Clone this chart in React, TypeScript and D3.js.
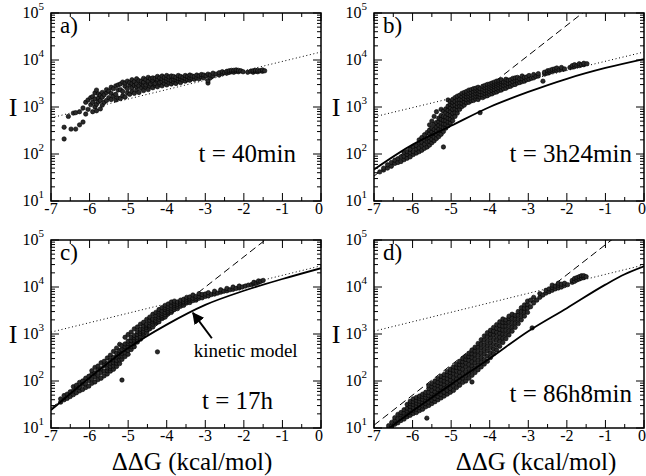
import React from 'react';
import * as d3 from 'd3';

// Four panels, log(I) vs ddG. Scatter:
// [ddG, [log10 I, ...]].
const FONT = '"Liberation Serif"';
const W = 270;
const H = 188;

const xMajor = [-7, -6, -5, -4, -3, -2, -1, 0];
const xMinor = [-6.5, -5.5, -4.5, -3.5, -2.5, -1.5, -0.5];
const yExp = [1, 2, 3, 4, 5];

const aCols = [
  [-6.66, [2.32, 2.57]], [-6.55, [2.8]], [-6.48, [2.53]], [-6.42, [2.87]], [-6.36, [2.53, 2.88]],
  [-6.26, [2.62, 2.9]], [-6.17, [2.68, 2.98]], [-6.1, [2.85, 3.1]], [-6.04, [2.95, 3.15]],
  [-5.97, [3.05, 3.2]], [-5.92, [2.9, 3.1, 3.22]], [-5.86, [3.0, 3.17, 3.3]], [-5.82, [2.92, 3.06, 3.36]],
  [-5.77, [3.11, 3.19, 3.28]], [-5.72, [2.96, 3.14, 3.25]], [-5.67, [3.04, 3.21, 3.31]], [-5.62, [3.1, 3.26]],
  [-5.56, [3.14, 3.31, 3.37]], [-5.5, [3.2, 3.34]], [-5.44, [3.16, 3.29, 3.42]], [-5.38, [3.23, 3.39]],
  [-5.32, [3.15, 3.27, 3.45]], [-5.26, [3.19, 3.36, 3.47]], [-5.2, [3.18, 3.37, 3.49]], [-5.14, [3.24, 3.33, 3.53]],
  [-5.08, [3.21, 3.44, 3.51]], [-5.02, [3.3, 3.39, 3.55]], [-4.96, [3.27, 3.47, 3.52]], [-4.9, [3.33, 3.41, 3.5, 3.58]],
  [-4.84, [3.29, 3.46, 3.54]], [-4.78, [3.36, 3.43, 3.49, 3.6]], [-4.72, [3.31, 3.45, 3.56]],
  [-4.66, [3.4, 3.5, 3.55]], [-4.6, [3.35, 3.46, 3.53, 3.61]], [-4.54, [3.42, 3.47, 3.58]],
  [-4.48, [3.37, 3.51, 3.55, 3.63]], [-4.42, [3.44, 3.49, 3.6]], [-4.36, [3.41, 3.53, 3.57, 3.62]],
  [-4.3, [3.46, 3.5, 3.61]], [-4.24, [3.43, 3.55, 3.59, 3.65]], [-4.18, [3.48, 3.52, 3.62]],
  [-4.12, [3.45, 3.54, 3.6, 3.66]], [-4.06, [3.5, 3.57, 3.63]], [-4.0, [3.47, 3.55, 3.61, 3.67]],
  [-3.94, [3.51, 3.58, 3.64]], [-3.88, [3.49, 3.56, 3.66]], [-3.82, [3.53, 3.59, 3.65]], [-3.76, [3.5, 3.58, 3.63]],
  [-3.7, [3.55, 3.61, 3.67]], [-3.64, [3.52, 3.6, 3.65]], [-3.58, [3.57, 3.63]], [-3.52, [3.55, 3.61, 3.67]],
  [-3.46, [3.58, 3.65]], [-3.4, [3.57, 3.62, 3.68]], [-3.34, [3.61, 3.66]], [-3.28, [3.59, 3.65]],
  [-3.22, [3.62, 3.68]], [-3.16, [3.6, 3.66]], [-3.1, [3.64, 3.69]], [-3.04, [3.62, 3.68]], [-2.98, [3.66]],
  [-2.93, [3.51, 3.56, 3.7]], [-2.87, [3.62, 3.68]], [-2.8, [3.66, 3.72]], [-2.72, [3.7]], [-2.64, [3.68, 3.73]],
  [-2.56, [3.71, 3.75]], [-2.5, [3.73]], [-2.44, [3.72, 3.76]], [-2.38, [3.74, 3.77]], [-2.32, [3.75, 3.78]],
  [-2.26, [3.74, 3.78]], [-2.2, [3.76, 3.79]], [-2.14, [3.75, 3.78]], [-2.08, [3.77]], [-2.02, [3.75]],
  [-1.9, [3.74]], [-1.82, [3.76]], [-1.76, [3.74, 3.77]], [-1.7, [3.76, 3.78]], [-1.64, [3.75, 3.78]],
  [-1.58, [3.77]], [-1.52, [3.76, 3.79]], [-1.46, [3.77]],
];

const bCols = [
  [-6.85, [1.62]], [-6.75, [1.66, 1.7]], [-6.65, [1.7, 1.77]], [-6.55, [1.74, 1.82]], [-6.46, [1.8, 1.87]],
  [-6.38, [1.82, 1.9]], [-6.3, [1.84, 1.94]], [-6.22, [1.88, 1.95, 2.03]], [-6.14, [1.91, 1.99, 2.05]],
  [-6.06, [1.94, 2.03, 2.1]], [-5.98, [1.99, 2.05, 2.15]], [-5.9, [2.02, 2.11, 2.18]],
  [-5.83, [2.05, 2.13, 2.23, 2.3]], [-5.76, [2.08, 2.18, 2.25, 2.35]], [-5.69, [2.12, 2.21, 2.3, 2.41]],
  [-5.62, [2.15, 2.26, 2.34, 2.46]], [-5.56, [2.19, 2.27, 2.35, 2.43, 2.51, 2.62]],
  [-5.5, [2.24, 2.31, 2.39, 2.47, 2.55, 2.7]], [-5.44, [2.28, 2.36, 2.44, 2.52, 2.63, 2.8]],
  [-5.38, [2.33, 2.41, 2.49, 2.57, 2.67, 2.9]], [-5.32, [2.37, 2.45, 2.53, 2.61, 2.69, 2.76]],
  [-5.26, [2.42, 2.5, 2.58, 2.66, 2.74, 2.82, 2.95]], [-5.2, [2.15, 2.48, 2.56, 2.64, 2.72, 2.8, 2.91]],
  [-5.14, [2.55, 2.63, 2.71, 2.79, 2.88, 2.96]], [-5.08, [2.6, 2.68, 2.76, 2.84, 2.93, 3.02, 3.15]],
  [-5.02, [2.66, 2.74, 2.82, 2.9, 2.98, 3.06, 3.12]], [-4.96, [2.71, 2.79, 2.87, 2.95, 3.03, 3.1, 3.16]],
  [-4.9, [2.8, 2.88, 2.96, 3.04, 3.12, 3.2]], [-4.84, [2.87, 2.94, 3.01, 3.08, 3.15, 3.23]],
  [-4.78, [2.95, 3.02, 3.09, 3.16, 3.25]], [-4.72, [3.01, 3.08, 3.15, 3.22, 3.29]],
  [-4.66, [3.04, 3.11, 3.18, 3.25, 3.31]], [-4.6, [3.09, 3.16, 3.22, 3.28, 3.33]],
  [-4.54, [3.1, 3.17, 3.23, 3.29, 3.36]], [-4.48, [3.13, 3.19, 3.25, 3.31, 3.37]],
  [-4.42, [3.14, 3.21, 3.27, 3.33, 3.39]], [-4.36, [3.17, 3.23, 3.29, 3.35, 3.4]],
  [-4.3, [3.16, 3.23, 3.29, 3.36, 3.42]], [-4.25, [2.88, 3.21, 3.27, 3.33, 3.39]],
  [-4.18, [3.2, 3.26, 3.32, 3.38, 3.44]], [-4.12, [3.23, 3.29, 3.35, 3.41, 3.46]],
  [-4.06, [3.24, 3.3, 3.36, 3.42, 3.48]], [-4.0, [3.27, 3.33, 3.39, 3.44, 3.49]],
  [-3.94, [3.28, 3.35, 3.41, 3.46, 3.51]], [-3.88, [3.31, 3.37, 3.43, 3.48, 3.53]],
  [-3.82, [3.32, 3.39, 3.45, 3.5, 3.55]], [-3.76, [3.35, 3.41, 3.47, 3.52, 3.56]],
  [-3.7, [3.36, 3.43, 3.49, 3.54, 3.58]], [-3.64, [3.39, 3.46, 3.53]], [-3.58, [3.4, 3.47, 3.53, 3.59]],
  [-3.52, [3.43, 3.5, 3.57]], [-3.46, [3.44, 3.51, 3.58]], [-3.4, [3.47, 3.54, 3.61]],
  [-3.34, [3.48, 3.56, 3.62]], [-3.28, [3.51, 3.57, 3.63]], [-3.22, [3.52, 3.6]], [-3.16, [3.54, 3.6, 3.66]],
  [-3.1, [3.55, 3.63]], [-3.04, [3.58, 3.64]], [-2.98, [3.59, 3.67]], [-2.92, [3.61]], [-2.86, [3.62, 3.69]],
  [-2.8, [3.65]], [-2.74, [3.66, 3.71]], [-2.62, [3.55]], [-2.58, [3.7, 3.74]], [-2.5, [3.72, 3.77]],
  [-2.44, [3.74, 3.78]], [-2.38, [3.76, 3.8]], [-2.32, [3.77, 3.81]], [-2.26, [3.78, 3.83]], [-2.2, [3.79]],
  [-2.14, [3.8, 3.84]], [-2.06, [3.81]], [-1.92, [3.84]], [-1.86, [3.85, 3.88]], [-1.8, [3.86, 3.9]],
  [-1.74, [3.88]], [-1.68, [3.88, 3.92]], [-1.62, [3.9]], [-1.56, [3.9, 3.93]], [-1.48, [3.92]],
];

const cCols = [
  [-6.75, [1.55, 1.62]], [-6.66, [1.6, 1.69]], [-6.58, [1.63, 1.72]], [-6.5, [1.67, 1.77]],
  [-6.42, [1.71, 1.79, 1.88]], [-6.34, [1.75, 1.85, 1.91]], [-6.26, [1.79, 1.87, 1.97]], [-6.18, [1.82, 1.93, 2.0]],
  [-6.1, [1.86, 1.94, 2.06]], [-6.02, [1.89, 2.01, 2.1]], [-5.94, [1.95, 2.04, 2.15, 2.22]],
  [-5.86, [1.98, 2.09, 2.17, 2.29]], [-5.78, [2.03, 2.12, 2.23, 2.32]], [-5.7, [2.06, 2.18, 2.26, 2.39]],
  [-5.62, [2.11, 2.21, 2.33, 2.42]], [-5.54, [2.15, 2.22, 2.28, 2.37, 2.49]],
  [-5.46, [2.21, 2.27, 2.31, 2.38, 2.45, 2.55]], [-5.38, [2.25, 2.32, 2.39, 2.45, 2.5, 2.63]],
  [-5.3, [2.31, 2.38, 2.44, 2.51, 2.59, 2.7]], [-5.22, [2.37, 2.45, 2.53, 2.59, 2.65, 2.78]],
  [-5.16, [2.02, 2.46, 2.53, 2.59, 2.67, 2.75]], [-5.08, [2.52, 2.6, 2.67, 2.73, 2.79, 2.93]],
  [-5.0, [2.57, 2.65, 2.73, 2.8, 2.85, 2.99]], [-4.92, [2.67, 2.73, 2.79, 2.86, 2.93, 3.04]],
  [-4.84, [2.73, 2.8, 2.87, 2.92, 2.97, 3.11]], [-4.76, [2.83, 2.88, 2.92, 2.99, 3.05, 3.15]],
  [-4.68, [2.89, 2.95, 3.01, 3.06, 3.1, 3.21]], [-4.6, [2.98, 3.02, 3.06, 3.12, 3.17, 3.25]],
  [-4.52, [3.03, 3.09, 3.14, 3.18, 3.21, 3.31]], [-4.44, [3.11, 3.15, 3.18, 3.24, 3.29, 3.36]],
  [-4.36, [3.15, 3.21, 3.26, 3.3, 3.32, 3.42]], [-4.28, [3.23, 3.26, 3.29, 3.34, 3.39, 3.46]],
  [-4.24, [2.62]], [-4.2, [3.26, 3.31, 3.36, 3.42, 3.47, 3.52]], [-4.12, [3.33, 3.36, 3.39, 3.44, 3.49, 3.56]],
  [-4.04, [3.36, 3.41, 3.46, 3.52, 3.56, 3.61]], [-3.96, [3.43, 3.46, 3.49, 3.54, 3.58, 3.64]],
  [-3.88, [3.46, 3.5, 3.55, 3.6, 3.68]], [-3.8, [3.52, 3.57, 3.61, 3.65, 3.7]], [-3.72, [3.54, 3.59, 3.63, 3.68]],
  [-3.64, [3.59, 3.64, 3.68, 3.72]], [-3.56, [3.61, 3.66, 3.69, 3.74]], [-3.48, [3.66, 3.7, 3.74, 3.78]],
  [-3.4, [3.67, 3.72, 3.75, 3.79]], [-3.32, [3.71, 3.76, 3.83]], [-3.24, [3.72, 3.76, 3.8]],
  [-3.16, [3.76, 3.8, 3.86]], [-3.08, [3.77, 3.84]], [-3.0, [3.8, 3.85]],
  [-2.92, [3.81, 3.88]], [-2.84, [3.84]], [-2.76, [3.85, 3.91]], [-2.68, [3.87]], [-2.6, [3.89, 3.94]],
  [-2.52, [3.91]], [-2.44, [3.92, 3.97]], [-2.36, [3.94]], [-2.28, [3.95, 4.0]], [-2.2, [3.97]],
  [-2.12, [3.98, 4.02]], [-2.04, [4.0]], [-1.96, [4.02]], [-1.88, [4.04]], [-1.8, [4.05]],
  [-1.74, [4.07, 4.1]], [-1.68, [4.08]], [-1.62, [4.1, 4.13]], [-1.56, [4.12]], [-1.5, [4.14]],
];

const dCols = [
  [-6.62, [1.0, 1.05]], [-6.54, [1.04, 1.12]], [-6.46, [1.08, 1.17, 1.22]], [-6.38, [1.11, 1.2, 1.29]],
  [-6.3, [1.16, 1.22, 1.28, 1.33]], [-6.22, [1.19, 1.25, 1.32, 1.39]], [-6.14, [1.24, 1.3, 1.36, 1.42, 1.5]],
  [-6.06, [1.27, 1.33, 1.39, 1.46, 1.52, 1.57]], [-5.98, [1.31, 1.37, 1.44, 1.5, 1.56, 1.62]],
  [-5.9, [1.33, 1.4, 1.47, 1.53, 1.59, 1.65]], [-5.82, [1.37, 1.44, 1.5, 1.57, 1.63, 1.68]],
  [-5.74, [1.4, 1.47, 1.54, 1.61, 1.67, 1.72]], [-5.66, [1.45, 1.52, 1.58, 1.65, 1.71, 1.76]],
  [-5.63, [1.21]], [-5.58, [1.48, 1.55, 1.62, 1.69, 1.76, 1.84, 1.9]],
  [-5.5, [1.52, 1.59, 1.66, 1.73, 1.8, 1.88, 1.95]], [-5.42, [1.56, 1.63, 1.7, 1.77, 1.85, 1.92, 2.0]],
  [-5.34, [1.6, 1.67, 1.74, 1.82, 1.9, 1.97, 2.05]], [-5.26, [1.64, 1.71, 1.79, 1.87, 1.95, 2.02, 2.1]],
  [-5.18, [1.68, 1.76, 1.84, 1.92, 2.0, 2.07, 2.14]], [-5.1, [1.72, 1.8, 1.88, 1.97, 2.05, 2.13, 2.2]],
  [-5.02, [1.76, 1.84, 1.93, 2.02, 2.1, 2.18, 2.25]], [-4.94, [1.8, 1.89, 1.98, 2.07, 2.16, 2.23, 2.3]],
  [-4.86, [1.86, 1.95, 2.04, 2.13, 2.22, 2.29, 2.36]], [-4.78, [1.91, 2.0, 2.1, 2.19, 2.28, 2.35, 2.42]],
  [-4.7, [1.97, 2.06, 2.16, 2.25, 2.34, 2.41, 2.48]], [-4.62, [2.0, 2.1, 2.2, 2.3, 2.39, 2.46, 2.53]],
  [-4.54, [2.06, 2.16, 2.26, 2.35, 2.44, 2.52, 2.59]], [-4.46, [1.98, 2.12, 2.22, 2.32, 2.41, 2.5, 2.58, 2.66]],
  [-4.38, [2.18, 2.28, 2.38, 2.47, 2.56, 2.64, 2.72]], [-4.3, [2.24, 2.34, 2.44, 2.54, 2.63, 2.72, 2.8]],
  [-4.22, [2.3, 2.4, 2.5, 2.6, 2.7, 2.79, 2.88]], [-4.14, [2.36, 2.46, 2.57, 2.67, 2.77, 2.87, 2.96]],
  [-4.06, [2.42, 2.53, 2.64, 2.74, 2.84, 2.94, 3.03]], [-3.98, [2.5, 2.6, 2.71, 2.81, 2.91, 3.0, 3.08]],
  [-3.9, [2.58, 2.68, 2.78, 2.88, 2.98, 3.06, 3.14]], [-3.82, [2.66, 2.76, 2.86, 2.95, 3.04, 3.12, 3.2]],
  [-3.74, [2.74, 2.84, 2.93, 3.02, 3.1, 3.18, 3.26]], [-3.66, [2.82, 2.91, 3.0, 3.09, 3.17, 3.25, 3.32]],
  [-3.58, [2.9, 2.99, 3.08, 3.17, 3.25, 3.3]], [-3.5, [2.98, 3.07, 3.16, 3.25, 3.33, 3.38]],
  [-3.42, [3.06, 3.15, 3.24, 3.33, 3.42]], [-3.34, [3.14, 3.23, 3.32, 3.4]], [-3.26, [3.22, 3.31, 3.4, 3.48]],
  [-3.18, [3.3, 3.39, 3.48, 3.56]], [-3.1, [3.38, 3.47, 3.55, 3.62]], [-3.02, [3.46, 3.55, 3.63, 3.7]],
  [-2.94, [3.58, 3.72]], [-2.9, [3.13]], [-2.86, [3.66, 3.78]], [-2.78, [3.72]], [-2.7, [3.78, 3.86]],
  [-2.62, [3.83]], [-2.54, [3.87, 3.93]], [-2.46, [3.9, 3.96]], [-2.38, [3.93, 3.99, 4.04]], [-2.3, [3.96, 4.02]],
  [-2.22, [3.98, 4.04, 4.08]], [-2.14, [4.0, 4.06]], [-2.06, [4.03, 4.08]], [-1.98, [4.05]],
  [-1.86, [4.1, 4.14]], [-1.8, [4.12, 4.18]], [-1.74, [4.15, 4.2]], [-1.68, [4.17, 4.22]],
  [-1.62, [4.19, 4.24]], [-1.56, [4.2, 4.24]], [-1.5, [4.22]],
];

// reference lines, [ddG, log10 I]
const aDotted = [[-7, 2.77], [0, 4.17]];
const bDotted = [[-7, 2.79], [0, 4.17]];
const cDotted = [[-7, 3.04], [0, 4.45]];
const dDotted = [[-7, 3.06], [0, 4.47]];
const bDashed = [[-7, 1.53], [-1.5, 5.06]];
const cDashed = [[-7, 1.42], [-1.4, 5.03]];
const dDashed = [[-7, 1.06], [-0.75, 5.06]];
const bSolid = [[-7, 1.67], [-6, 2.2], [-5, 2.6], [-4, 3.0], [-3, 3.32], [-2, 3.6], [-1, 3.83], [0, 4.02]];
const cSolid = [[-7, 1.38], [-6, 2.07], [-5, 2.7], [-4, 3.2], [-3, 3.62], [-2, 3.92], [-1, 4.17], [0, 4.4]];
const dSolid = [[-6.6, 1.0], [-6, 1.36], [-5, 1.93], [-4, 2.48], [-3, 3.06], [-2, 3.55], [-1, 4.05], [-0.5, 4.27], [0, 4.44]];

// kinetic model arrow (panel c): tail, head
const arrowC = [[-2.83, 2.91], [-3.32, 3.45]];

const panels = [
  { id: 'a', left: 51, top: 13, tag: 'a)', time: 't = 40min', timeX: 296, timeY: 162, cols: aCols, dotted: aDotted },
  { id: 'b', left: 374, top: 13, tag: 'b)', time: 't = 3h24min', timeX: 632, timeY: 162, cols: bCols, dotted: bDotted, dashed: bDashed, solid: bSolid },
  { id: 'c', left: 51, top: 240, tag: 'c)', time: 't = 17h', timeX: 273, timeY: 409, cols: cCols, dotted: cDotted, dashed: cDashed, solid: cSolid, arrow: arrowC, xTitle: 192 },
  { id: 'd', left: 374, top: 240, tag: 'd)', time: 't = 86h8min', timeX: 632, timeY: 402, cols: dCols, dotted: dDotted, dashed: dDashed, solid: dSolid, xTitle: 536 },
];

function Panel({ p }) {
  const x = d3.scaleLinear().domain([-7, 0]).range([0, W]);
  const y = d3.scaleLog().domain([10, 1e5]).range([H, 0]);
  const ly = (v) => y(10 ** v);
  const line = d3.line().x((d) => x(d[0])).y((d) => ly(d[1]));
  const curve = d3.line().x((d) => x(d[0])).y((d) => ly(d[1])).curve(d3.curveMonotoneX);
  const minorY = y.ticks().filter((v) => Math.abs(Math.log10(v) % 1) > 1e-6);
  const pts = p.cols.flatMap(([dx, ys]) => ys.map((v) => [dx, v]));
  const clip = `clip-${p.id}`;
  return (
    <g transform={`translate(${p.left},${p.top})`} style={{ fontFamily: FONT }}>
      <defs>
        <clipPath id={clip}>
          <rect x={0} y={0} width={W} height={H} />
        </clipPath>
      </defs>
      <g clipPath={`url(#${clip})`}>
        <path d={line(p.dotted)} fill="none" stroke="#000" strokeWidth={1} strokeDasharray="1 2.6" />
        {p.dashed && (
          <path d={line(p.dashed)} fill="none" stroke="#000" strokeWidth={1} strokeDasharray="7 4" />
        )}
        {pts.map((d, i) => (
          <circle key={i} cx={x(d[0])} cy={ly(d[1])} r={2.2} fill="#2a2a2a" stroke="#000" strokeWidth={0.6} />
        ))}
        {p.solid && <path d={curve(p.solid)} fill="none" stroke="#000" strokeWidth={1.8} />}
      </g>
      {xMajor.map((v) => (
        <g key={`xm${v}`}>
          <line x1={x(v)} x2={x(v)} y1={H} y2={H - 8} stroke="#000" strokeWidth={1} />
          <line x1={x(v)} x2={x(v)} y1={0} y2={8} stroke="#000" strokeWidth={1} />
          <text x={v === 0 ? x(v) - 2 : x(v)} y={H + 13} textAnchor="middle" fontSize={16}>
            {v === 0 ? '0' : `-${-v}`}
          </text>
        </g>
      ))}
      {xMinor.map((v) => (
        <g key={`xn${v}`}>
          <line x1={x(v)} x2={x(v)} y1={H} y2={H - 4} stroke="#000" strokeWidth={1} />
          <line x1={x(v)} x2={x(v)} y1={0} y2={4} stroke="#000" strokeWidth={1} />
        </g>
      ))}
      {minorY.map((v) => (
        <g key={`yn${v}`}>
          <line x1={0} x2={4} y1={y(v)} y2={y(v)} stroke="#000" strokeWidth={1} />
          <line x1={W} x2={W - 4} y1={y(v)} y2={y(v)} stroke="#000" strokeWidth={1} />
        </g>
      ))}
      {yExp.map((e) => (
        <g key={`ym${e}`}>
          <line x1={0} x2={8} y1={ly(e)} y2={ly(e)} stroke="#000" strokeWidth={1} />
          <line x1={W} x2={W - 8} y1={ly(e)} y2={ly(e)} stroke="#000" strokeWidth={1} />
          <text x={-7} y={ly(e) + 5} textAnchor="end" fontSize={16}>
            10<tspan fontSize={11} dy={-8}>{e}</tspan>
          </text>
        </g>
      ))}
      <rect x={0} y={0} width={W} height={H} fill="none" stroke="#000" strokeWidth={1.5} />
      <text x={9} y={20} fontSize={23}>{p.tag}</text>
      <text x={p.timeX - p.left} y={p.timeY - p.top} textAnchor="end" fontSize={25}>{p.time}</text>
      <text x={-38} y={ly(3) + 9} textAnchor="middle" fontSize={26}>I</text>
      {p.arrow && (
        <g>
          <defs>
            <marker id="arrowhead" viewBox="0 0 10 10" refX={9} refY={5} markerWidth={6} markerHeight={6} orient="auto">
              <path d="M0,0 L10,5 L0,10 z" fill="#000" />
            </marker>
          </defs>
          <path d={line(p.arrow)} stroke="#000" strokeWidth={2} markerEnd="url(#arrowhead)" />
          <text x={x(-3.3)} y={ly(3) + 23} fontSize={19}>kinetic model</text>
        </g>
      )}
      {p.xTitle && (
        <text x={p.xTitle - p.left} y={470 - p.top} textAnchor="middle" fontSize={25}>
          ΔΔG (kcal/mol)
        </text>
      )}
    </g>
  );
}

export default function App() {
  return (
    <svg width={646} height={476} style={{ position: 'absolute', left: 0, top: 0, background: '#fff' }}>
      <rect width={646} height={476} fill="#fff" />
      {panels.map((p) => (
        <Panel key={p.id} p={p} />
      ))}
    </svg>
  );
}
